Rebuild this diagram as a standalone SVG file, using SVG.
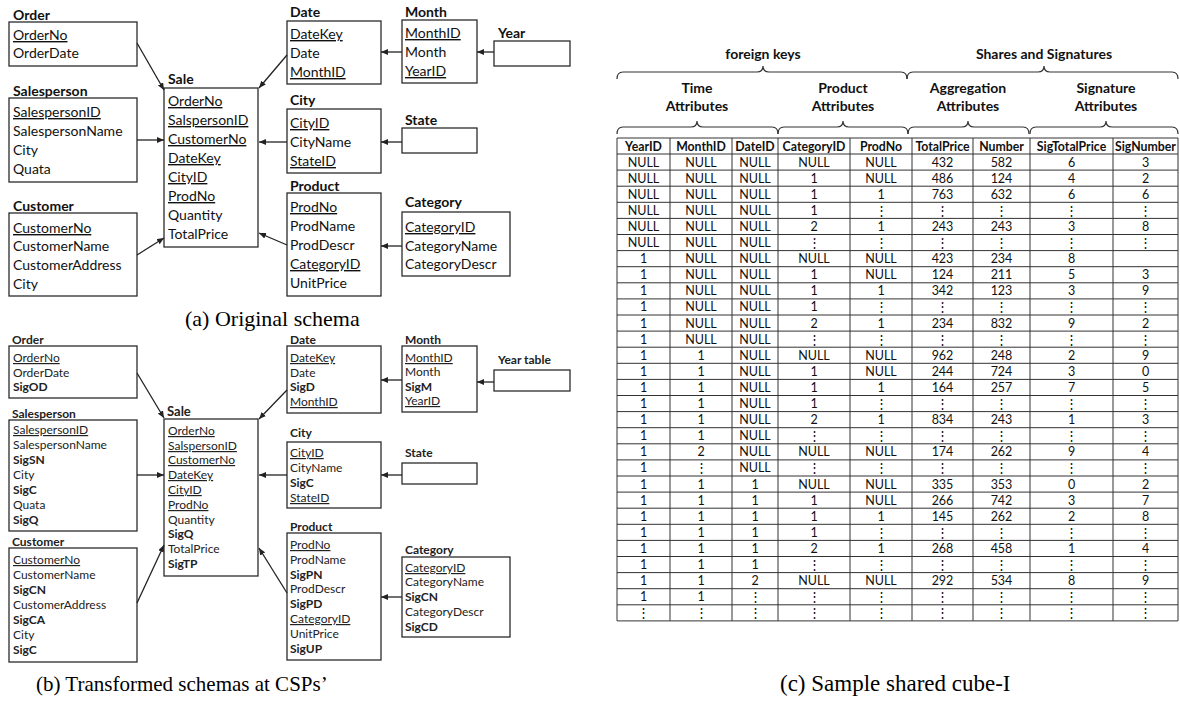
<svg xmlns="http://www.w3.org/2000/svg" width="1180" height="702" viewBox="0 0 1180 702">
<style>
.bg{fill:#ffffff}
.box{fill:none;stroke:#2b2b2b;stroke-width:1.3}
.t{font-family:Lato,'Liberation Sans',sans-serif;font-size:14px;fill:#111}
.s{font-family:Lato,'Liberation Sans',sans-serif;font-size:12px;fill:#222}
.b{font-weight:bold}
.u{text-decoration:underline}
.cap{font-family:'Liberation Serif',serif;font-size:22px;fill:#000}
.tb{font-family:Lato,'Liberation Sans',sans-serif;font-size:12.5px;fill:#111;text-anchor:middle}
.hd{font-family:Lato,'Liberation Sans',sans-serif;font-size:14px;font-weight:bold;fill:#111;text-anchor:middle}
.grid{fill:none;stroke:#333;stroke-width:1}
.brace{fill:none;stroke:#333;stroke-width:1.2}
.conn{fill:none;stroke:#222;stroke-width:1.3;marker-end:url(#ah)}
</style>
<defs>
<marker id="ah" markerUnits="userSpaceOnUse" markerWidth="7" markerHeight="6" refX="7" refY="3" orient="auto">
<path d="M0,0 L7,3 L0,6 z" fill="#222"/>
</marker>
</defs>
<rect class="bg" x="0" y="0" width="1180" height="702"/>

<!-- (a) Original schema -->
<g id="a-order">
<text class="t b" x="13" y="20">Order</text>
<rect class="box" x="9" y="22" width="128" height="44"/>
<text class="t u" x="13" y="40">OrderNo</text>
<text class="t" x="13" y="58">OrderDate</text>
</g>
<g id="a-salesperson">
<text class="t b" x="13" y="96">Salesperson</text>
<rect class="box" x="9" y="98" width="128" height="84"/>
<text class="t u" x="13" y="117">SalespersonID</text>
<text class="t" x="13" y="136">SalespersonName</text>
<text class="t" x="13" y="155">City</text>
<text class="t" x="13" y="174">Quata</text>
</g>
<g id="a-customer">
<text class="t b" x="13" y="211">Customer</text>
<rect class="box" x="9" y="213" width="128" height="83"/>
<text class="t u" x="13" y="233">CustomerNo</text>
<text class="t" x="13" y="251">CustomerName</text>
<text class="t" x="13" y="270">CustomerAddress</text>
<text class="t" x="13" y="289">City</text>
</g>
<g id="a-sale">
<text class="t b" x="168" y="84">Sale</text>
<rect class="box" x="164" y="88" width="94" height="159"/>
<text class="t u" x="168" y="106">OrderNo</text>
<text class="t u" x="168" y="125">SalspersonID</text>
<text class="t u" x="168" y="144">CustomerNo</text>
<text class="t u" x="168" y="163">DateKey</text>
<text class="t u" x="168" y="182">CityID</text>
<text class="t u" x="168" y="201">ProdNo</text>
<text class="t" x="168" y="220">Quantity</text>
<text class="t" x="168" y="239">TotalPrice</text>
</g>
<g id="a-date">
<text class="t b" x="290" y="17">Date</text>
<rect class="box" x="287" y="21" width="94" height="63"/>
<text class="t u" x="290" y="39">DateKey</text>
<text class="t" x="290" y="58">Date</text>
<text class="t u" x="290" y="77">MonthID</text>
</g>
<g id="a-month">
<text class="t b" x="405" y="17">Month</text>
<rect class="box" x="402" y="20" width="75" height="63"/>
<text class="t u" x="405" y="38">MonthID</text>
<text class="t" x="405" y="57">Month</text>
<text class="t u" x="405" y="76">YearID</text>
</g>
<g id="a-year">
<text class="t b" x="498" y="38">Year</text>
<rect class="box" x="494" y="41" width="76" height="25"/>
</g>
<g id="a-city">
<text class="t b" x="290" y="105">City</text>
<rect class="box" x="287" y="109" width="94" height="64"/>
<text class="t u" x="290" y="128">CityID</text>
<text class="t" x="290" y="147">CityName</text>
<text class="t u" x="290" y="166">StateID</text>
</g>
<g id="a-state">
<text class="t b" x="405" y="125">State</text>
<rect class="box" x="402" y="128" width="75" height="25"/>
</g>
<g id="a-product">
<text class="t b" x="290" y="191">Product</text>
<rect class="box" x="287" y="193" width="94" height="103"/>
<text class="t u" x="290" y="212">ProdNo</text>
<text class="t" x="290" y="231">ProdName</text>
<text class="t" x="290" y="250">ProdDescr</text>
<text class="t u" x="290" y="269">CategoryID</text>
<text class="t" x="290" y="288">UnitPrice</text>
</g>
<g id="a-category">
<text class="t b" x="405" y="207">Category</text>
<rect class="box" x="402" y="212" width="108" height="64"/>
<text class="t u" x="405" y="232">CategoryID</text>
<text class="t" x="405" y="251">CategoryName</text>
<text class="t" x="405" y="269">CategoryDescr</text>
</g>
<text class="cap" x="185" y="326">(a) Original schema</text>

<!-- (b) Transformed schemas -->
<g id="b-order">
<text class="s b" x="12" y="344">Order</text>
<rect class="box" x="9" y="346" width="128" height="52"/>
<text class="s u" x="13" y="362">OrderNo</text>
<text class="s" x="13" y="377">OrderDate</text>
<text class="s b" x="13" y="391">SigOD</text>
</g>
<g id="b-salesperson">
<text class="s b" x="12" y="418">Salesperson</text>
<rect class="box" x="9" y="420" width="128" height="111"/>
<text class="s u" x="13" y="434">SalespersonID</text>
<text class="s" x="13" y="449">SalespersonName</text>
<text class="s b" x="13" y="464">SigSN</text>
<text class="s" x="13" y="479">City</text>
<text class="s b" x="13" y="494">SigC</text>
<text class="s" x="13" y="509">Quata</text>
<text class="s b" x="13" y="524">SigQ</text>
</g>
<g id="b-customer">
<text class="s b" x="12" y="546">Customer</text>
<rect class="box" x="9" y="548" width="128" height="114"/>
<text class="s u" x="13" y="564">CustomerNo</text>
<text class="s" x="13" y="579">CustomerName</text>
<text class="s b" x="13" y="594">SigCN</text>
<text class="s" x="13" y="609">CustomerAddress</text>
<text class="s b" x="13" y="624">SigCA</text>
<text class="s" x="13" y="639">City</text>
<text class="s b" x="13" y="654">SigC</text>
</g>
<g id="b-sale">
<text class="s b" x="167" y="416" style="font-size:13px">Sale</text>
<rect class="box" x="164" y="419" width="94" height="157"/>
<text class="s u" x="168" y="435">OrderNo</text>
<text class="s u" x="168" y="450">SalspersonID</text>
<text class="s u" x="168" y="464">CustomerNo</text>
<text class="s u" x="168" y="479">DateKey</text>
<text class="s u" x="168" y="494">CityID</text>
<text class="s u" x="168" y="509">ProdNo</text>
<text class="s" x="168" y="524">Quantity</text>
<text class="s b" x="168" y="538">SigQ</text>
<text class="s" x="168" y="553">TotalPrice</text>
<text class="s b" x="168" y="568">SigTP</text>
</g>
<g id="b-date">
<text class="s b" x="290" y="344">Date</text>
<rect class="box" x="287" y="346" width="94" height="67"/>
<text class="s u" x="290" y="362">DateKey</text>
<text class="s" x="290" y="377">Date</text>
<text class="s b" x="290" y="391">SigD</text>
<text class="s u" x="290" y="406">MonthID</text>
</g>
<g id="b-month">
<text class="s b" x="405" y="344">Month</text>
<rect class="box" x="402" y="346" width="75" height="66"/>
<text class="s u" x="405" y="362">MonthID</text>
<text class="s" x="405" y="376">Month</text>
<text class="s b" x="405" y="391">SigM</text>
<text class="s u" x="405" y="405">YearID</text>
</g>
<g id="b-year">
<text class="s b" x="498" y="364">Year table</text>
<rect class="box" x="494" y="370" width="76" height="21"/>
</g>
<g id="b-city">
<text class="s b" x="290" y="437">City</text>
<rect class="box" x="287" y="442" width="94" height="66"/>
<text class="s u" x="290" y="457">CityID</text>
<text class="s" x="290" y="472">CityName</text>
<text class="s b" x="290" y="487">SigC</text>
<text class="s u" x="290" y="502">StateID</text>
</g>
<g id="b-state">
<text class="s b" x="405" y="457">State</text>
<rect class="box" x="402" y="463" width="75" height="21"/>
</g>
<g id="b-product">
<text class="s b" x="290" y="531">Product</text>
<rect class="box" x="287" y="533" width="94" height="127"/>
<text class="s u" x="290" y="549">ProdNo</text>
<text class="s" x="290" y="564">ProdName</text>
<text class="s b" x="290" y="579">SigPN</text>
<text class="s" x="290" y="593">ProdDescr</text>
<text class="s b" x="290" y="608">SigPD</text>
<text class="s u" x="290" y="623">CategoryID</text>
<text class="s" x="290" y="638">UnitPrice</text>
<text class="s b" x="290" y="653">SigUP</text>
</g>
<g id="b-category">
<text class="s b" x="405" y="554">Category</text>
<rect class="box" x="402" y="557" width="108" height="80"/>
<text class="s u" x="405" y="572">CategoryID</text>
<text class="s" x="405" y="586">CategoryName</text>
<text class="s b" x="405" y="601">SigCN</text>
<text class="s" x="405" y="616">CategoryDescr</text>
<text class="s b" x="405" y="631">SigCD</text>
</g>
<text class="cap" x="36" y="691" style="font-size:21px">(b) Transformed schemas at CSPs’</text>

<!-- connectors -->
<g id="connectors">
<line class="conn" x1="137" y1="43" x2="164" y2="90"/>
<line class="conn" x1="137" y1="140" x2="164" y2="140"/>
<line class="conn" x1="137" y1="255" x2="164" y2="238"/>
<line class="conn" x1="287" y1="55" x2="259" y2="88"/>
<line class="conn" x1="287" y1="142" x2="259" y2="142"/>
<line class="conn" x1="287" y1="245" x2="259" y2="233"/>
<line class="conn" x1="402" y1="52" x2="381" y2="52"/>
<line class="conn" x1="494" y1="52" x2="477" y2="52"/>
<line class="conn" x1="402" y1="142" x2="381" y2="142"/>
<line class="conn" x1="402" y1="246" x2="381" y2="246"/>
<line class="conn" x1="137" y1="373" x2="164" y2="418"/>
<line class="conn" x1="137" y1="475" x2="164" y2="475"/>
<line class="conn" x1="137" y1="603" x2="164" y2="545"/>
<line class="conn" x1="287" y1="390" x2="259" y2="419"/>
<line class="conn" x1="287" y1="475" x2="259" y2="475"/>
<line class="conn" x1="287" y1="593" x2="259" y2="548"/>
<line class="conn" x1="402" y1="380" x2="381" y2="380"/>
<line class="conn" x1="494" y1="382" x2="477" y2="382"/>
<line class="conn" x1="402" y1="475" x2="381" y2="475"/>
<line class="conn" x1="402" y1="597" x2="381" y2="597"/>
</g>

<!-- (c) Sample shared cube -->
<g id="c-headers">
<text class="hd" x="763" y="59">foreign keys</text>
<text class="hd" x="1044" y="59">Shares and Signatures</text>
<path class="brace" d="M617,79 Q617,72 623,72 L757,72 Q763,72 763,66 Q763,72 769,72 L901,72 Q907,72 907,79"/>
<path class="brace" d="M907,79 Q907,72 913,72 L1038,72 Q1044,72 1044,66 Q1044,72 1050,72 L1172,72 Q1178,72 1178,79"/>
<text class="hd" x="697" y="93">Time</text>
<text class="hd" x="697" y="111">Attributes</text>
<text class="hd" x="843" y="93">Product</text>
<text class="hd" x="843" y="111">Attributes</text>
<text class="hd" x="968" y="93">Aggregation</text>
<text class="hd" x="968" y="111">Attributes</text>
<text class="hd" x="1106" y="93">Signature</text>
<text class="hd" x="1106" y="111">Attributes</text>
<path class="brace" d="M617,134 Q617,127 623,127 L691,127 Q697,127 697,121 Q697,127 703,127 L772,127 Q778,127 778,134"/>
<path class="brace" d="M778,134 Q778,127 784,127 L837,127 Q843,127 843,121 Q843,127 849,127 L902,127 Q908,127 908,134"/>
<path class="brace" d="M908,134 Q908,127 914,127 L962,127 Q968,127 968,121 Q968,127 974,127 L1023,127 Q1029,127 1029,134"/>
<path class="brace" d="M1030,134 Q1030,127 1036,127 L1100,127 Q1106,127 1106,121 Q1106,127 1112,127 L1172,127 Q1178,127 1178,134"/>
</g>
<g id="c-table">
<path class="grid" d="M617,138H1178M617,154H1178M617,170.1H1178M617,186.2H1178M617,202.3H1178M617,218.4H1178M617,234.5H1178M617,250.6H1178M617,266.7H1178M617,282.8H1178M617,298.9H1178M617,315H1178M617,331.1H1178M617,347.2H1178M617,363.3H1178M617,379.4H1178M617,395.5H1178M617,411.6H1178M617,427.7H1178M617,443.8H1178M617,459.9H1178M617,476H1178M617,492.1H1178M617,508.2H1178M617,524.3H1178M617,540.4H1178M617,556.5H1178M617,572.6H1178M617,588.7H1178M617,604.8H1178M617,620.9H1178M617,138V620.9M670,138V620.9M732,138V620.9M778,138V620.9M850,138V620.9M912,138V620.9M973,138V620.9M1030,138V620.9M1113,138V620.9M1178,138V620.9"/>
<text class="tb" y="150.5" style="font-weight:bold;font-size:12.3px"><tspan x="643.5">YearID</tspan><tspan x="701">MonthID</tspan><tspan x="755">DateID</tspan><tspan x="814">CategoryID</tspan><tspan x="881">ProdNo</tspan><tspan x="942.5">TotalPrice</tspan><tspan x="1001.5">Number</tspan><tspan x="1071.5">SigTotalPrice</tspan><tspan x="1145.5">SigNumber</tspan></text>
<text class="tb" y="166.5"><tspan x="643.5">NULL</tspan><tspan x="701">NULL</tspan><tspan x="755">NULL</tspan><tspan x="814">NULL</tspan><tspan x="881">NULL</tspan><tspan x="942.5">432</tspan><tspan x="1001.5">582</tspan><tspan x="1071.5">6</tspan><tspan x="1145.5">3</tspan></text>
<text class="tb" y="182.6"><tspan x="643.5">NULL</tspan><tspan x="701">NULL</tspan><tspan x="755">NULL</tspan><tspan x="814">1</tspan><tspan x="881">NULL</tspan><tspan x="942.5">486</tspan><tspan x="1001.5">124</tspan><tspan x="1071.5">4</tspan><tspan x="1145.5">2</tspan></text>
<text class="tb" y="198.7"><tspan x="643.5">NULL</tspan><tspan x="701">NULL</tspan><tspan x="755">NULL</tspan><tspan x="814">1</tspan><tspan x="881">1</tspan><tspan x="942.5">763</tspan><tspan x="1001.5">632</tspan><tspan x="1071.5">6</tspan><tspan x="1145.5">6</tspan></text>
<text class="tb" y="214.8"><tspan x="643.5">NULL</tspan><tspan x="701">NULL</tspan><tspan x="755">NULL</tspan><tspan x="814">1</tspan><tspan x="881">⋮</tspan><tspan x="942.5">⋮</tspan><tspan x="1001.5">⋮</tspan><tspan x="1071.5">⋮</tspan><tspan x="1145.5">⋮</tspan></text>
<text class="tb" y="230.9"><tspan x="643.5">NULL</tspan><tspan x="701">NULL</tspan><tspan x="755">NULL</tspan><tspan x="814">2</tspan><tspan x="881">1</tspan><tspan x="942.5">243</tspan><tspan x="1001.5">243</tspan><tspan x="1071.5">3</tspan><tspan x="1145.5">8</tspan></text>
<text class="tb" y="247"><tspan x="643.5">NULL</tspan><tspan x="701">NULL</tspan><tspan x="755">NULL</tspan><tspan x="814">⋮</tspan><tspan x="881">⋮</tspan><tspan x="942.5">⋮</tspan><tspan x="1001.5">⋮</tspan><tspan x="1071.5">⋮</tspan><tspan x="1145.5">⋮</tspan></text>
<text class="tb" y="263.1"><tspan x="643.5">1</tspan><tspan x="701">NULL</tspan><tspan x="755">NULL</tspan><tspan x="814">NULL</tspan><tspan x="881">NULL</tspan><tspan x="942.5">423</tspan><tspan x="1001.5">234</tspan><tspan x="1071.5">8</tspan></text>
<text class="tb" y="279.2"><tspan x="643.5">1</tspan><tspan x="701">NULL</tspan><tspan x="755">NULL</tspan><tspan x="814">1</tspan><tspan x="881">NULL</tspan><tspan x="942.5">124</tspan><tspan x="1001.5">211</tspan><tspan x="1071.5">5</tspan><tspan x="1145.5">3</tspan></text>
<text class="tb" y="295.3"><tspan x="643.5">1</tspan><tspan x="701">NULL</tspan><tspan x="755">NULL</tspan><tspan x="814">1</tspan><tspan x="881">1</tspan><tspan x="942.5">342</tspan><tspan x="1001.5">123</tspan><tspan x="1071.5">3</tspan><tspan x="1145.5">9</tspan></text>
<text class="tb" y="311.4"><tspan x="643.5">1</tspan><tspan x="701">NULL</tspan><tspan x="755">NULL</tspan><tspan x="814">1</tspan><tspan x="881">⋮</tspan><tspan x="942.5">⋮</tspan><tspan x="1001.5">⋮</tspan><tspan x="1071.5">⋮</tspan><tspan x="1145.5">⋮</tspan></text>
<text class="tb" y="327.5"><tspan x="643.5">1</tspan><tspan x="701">NULL</tspan><tspan x="755">NULL</tspan><tspan x="814">2</tspan><tspan x="881">1</tspan><tspan x="942.5">234</tspan><tspan x="1001.5">832</tspan><tspan x="1071.5">9</tspan><tspan x="1145.5">2</tspan></text>
<text class="tb" y="343.6"><tspan x="643.5">1</tspan><tspan x="701">NULL</tspan><tspan x="755">NULL</tspan><tspan x="814">⋮</tspan><tspan x="881">⋮</tspan><tspan x="942.5">⋮</tspan><tspan x="1001.5">⋮</tspan><tspan x="1071.5">⋮</tspan><tspan x="1145.5">⋮</tspan></text>
<text class="tb" y="359.7"><tspan x="643.5">1</tspan><tspan x="701">1</tspan><tspan x="755">NULL</tspan><tspan x="814">NULL</tspan><tspan x="881">NULL</tspan><tspan x="942.5">962</tspan><tspan x="1001.5">248</tspan><tspan x="1071.5">2</tspan><tspan x="1145.5">9</tspan></text>
<text class="tb" y="375.8"><tspan x="643.5">1</tspan><tspan x="701">1</tspan><tspan x="755">NULL</tspan><tspan x="814">1</tspan><tspan x="881">NULL</tspan><tspan x="942.5">244</tspan><tspan x="1001.5">724</tspan><tspan x="1071.5">3</tspan><tspan x="1145.5">0</tspan></text>
<text class="tb" y="391.9"><tspan x="643.5">1</tspan><tspan x="701">1</tspan><tspan x="755">NULL</tspan><tspan x="814">1</tspan><tspan x="881">1</tspan><tspan x="942.5">164</tspan><tspan x="1001.5">257</tspan><tspan x="1071.5">7</tspan><tspan x="1145.5">5</tspan></text>
<text class="tb" y="408"><tspan x="643.5">1</tspan><tspan x="701">1</tspan><tspan x="755">NULL</tspan><tspan x="814">1</tspan><tspan x="881">⋮</tspan><tspan x="942.5">⋮</tspan><tspan x="1001.5">⋮</tspan><tspan x="1071.5">⋮</tspan><tspan x="1145.5">⋮</tspan></text>
<text class="tb" y="424.1"><tspan x="643.5">1</tspan><tspan x="701">1</tspan><tspan x="755">NULL</tspan><tspan x="814">2</tspan><tspan x="881">1</tspan><tspan x="942.5">834</tspan><tspan x="1001.5">243</tspan><tspan x="1071.5">1</tspan><tspan x="1145.5">3</tspan></text>
<text class="tb" y="440.2"><tspan x="643.5">1</tspan><tspan x="701">1</tspan><tspan x="755">NULL</tspan><tspan x="814">⋮</tspan><tspan x="881">⋮</tspan><tspan x="942.5">⋮</tspan><tspan x="1001.5">⋮</tspan><tspan x="1071.5">⋮</tspan><tspan x="1145.5">⋮</tspan></text>
<text class="tb" y="456.3"><tspan x="643.5">1</tspan><tspan x="701">2</tspan><tspan x="755">NULL</tspan><tspan x="814">NULL</tspan><tspan x="881">NULL</tspan><tspan x="942.5">174</tspan><tspan x="1001.5">262</tspan><tspan x="1071.5">9</tspan><tspan x="1145.5">4</tspan></text>
<text class="tb" y="472.4"><tspan x="643.5">1</tspan><tspan x="701">⋮</tspan><tspan x="755">NULL</tspan><tspan x="814">⋮</tspan><tspan x="881">⋮</tspan><tspan x="942.5">⋮</tspan><tspan x="1001.5">⋮</tspan><tspan x="1071.5">⋮</tspan><tspan x="1145.5">⋮</tspan></text>
<text class="tb" y="488.5"><tspan x="643.5">1</tspan><tspan x="701">1</tspan><tspan x="755">1</tspan><tspan x="814">NULL</tspan><tspan x="881">NULL</tspan><tspan x="942.5">335</tspan><tspan x="1001.5">353</tspan><tspan x="1071.5">0</tspan><tspan x="1145.5">2</tspan></text>
<text class="tb" y="504.6"><tspan x="643.5">1</tspan><tspan x="701">1</tspan><tspan x="755">1</tspan><tspan x="814">1</tspan><tspan x="881">NULL</tspan><tspan x="942.5">266</tspan><tspan x="1001.5">742</tspan><tspan x="1071.5">3</tspan><tspan x="1145.5">7</tspan></text>
<text class="tb" y="520.7"><tspan x="643.5">1</tspan><tspan x="701">1</tspan><tspan x="755">1</tspan><tspan x="814">1</tspan><tspan x="881">1</tspan><tspan x="942.5">145</tspan><tspan x="1001.5">262</tspan><tspan x="1071.5">2</tspan><tspan x="1145.5">8</tspan></text>
<text class="tb" y="536.8"><tspan x="643.5">1</tspan><tspan x="701">1</tspan><tspan x="755">1</tspan><tspan x="814">1</tspan><tspan x="881">⋮</tspan><tspan x="942.5">⋮</tspan><tspan x="1001.5">⋮</tspan><tspan x="1071.5">⋮</tspan><tspan x="1145.5">⋮</tspan></text>
<text class="tb" y="552.9"><tspan x="643.5">1</tspan><tspan x="701">1</tspan><tspan x="755">1</tspan><tspan x="814">2</tspan><tspan x="881">1</tspan><tspan x="942.5">268</tspan><tspan x="1001.5">458</tspan><tspan x="1071.5">1</tspan><tspan x="1145.5">4</tspan></text>
<text class="tb" y="569"><tspan x="643.5">1</tspan><tspan x="701">1</tspan><tspan x="755">1</tspan><tspan x="814">⋮</tspan><tspan x="881">⋮</tspan><tspan x="942.5">⋮</tspan><tspan x="1001.5">⋮</tspan><tspan x="1071.5">⋮</tspan><tspan x="1145.5">⋮</tspan></text>
<text class="tb" y="585.1"><tspan x="643.5">1</tspan><tspan x="701">1</tspan><tspan x="755">2</tspan><tspan x="814">NULL</tspan><tspan x="881">NULL</tspan><tspan x="942.5">292</tspan><tspan x="1001.5">534</tspan><tspan x="1071.5">8</tspan><tspan x="1145.5">9</tspan></text>
<text class="tb" y="601.2"><tspan x="643.5">1</tspan><tspan x="701">1</tspan><tspan x="755">⋮</tspan><tspan x="814">⋮</tspan><tspan x="881">⋮</tspan><tspan x="942.5">⋮</tspan><tspan x="1001.5">⋮</tspan><tspan x="1071.5">⋮</tspan><tspan x="1145.5">⋮</tspan></text>
<text class="tb" y="617.3"><tspan x="643.5">⋮</tspan><tspan x="701">⋮</tspan><tspan x="755">⋮</tspan><tspan x="814">⋮</tspan><tspan x="881">⋮</tspan><tspan x="942.5">⋮</tspan><tspan x="1001.5">⋮</tspan><tspan x="1071.5">⋮</tspan><tspan x="1145.5">⋮</tspan></text>
</g>
<text class="cap" x="780" y="691" style="font-size:23px">(c) Sample shared cube-I</text>
</svg>
